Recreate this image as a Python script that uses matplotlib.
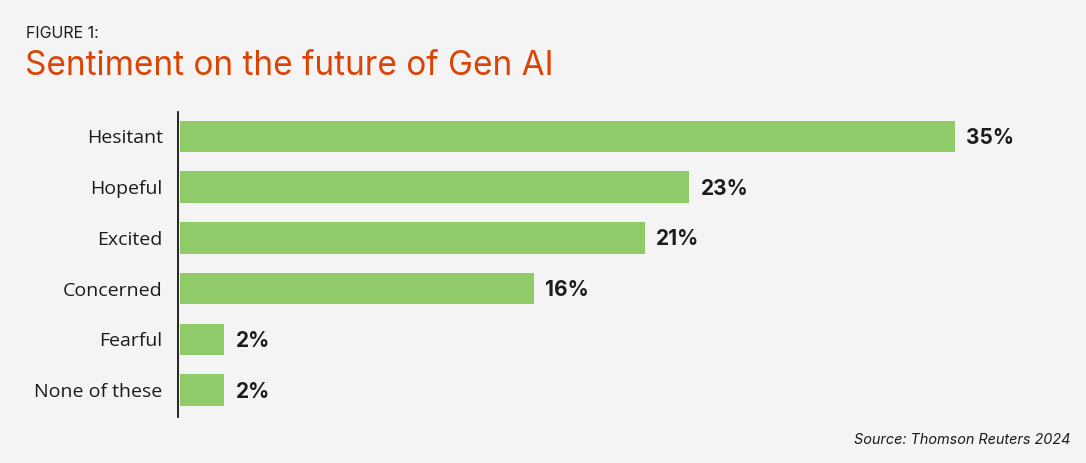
import matplotlib.pyplot as plt

categories = ['Hesitant', 'Hopeful', 'Excited', 'Concerned', 'Fearful', 'None of these']
values = [35, 23, 21, 16, 2, 2]

bg = '#f4f4f4'
fig = plt.figure(figsize=(10.86, 4.63), dpi=100, facecolor=bg)
W, H = 1086, 463
ax = fig.add_axes([178 / W, 1 - 417 / H, (1060 - 178) / W, (417 - 112) / H])
ax.set_facecolor(bg)

y = list(range(len(categories)))
ax.barh(y, values, height=0.62, color='#8fcb69', left=0.08)
for yi, v in zip(y, values):
    ax.text(v + 0.6, yi + 0.03, f'{v}%', va='center', ha='left', fontsize=15,
            fontweight='bold', family='Inter', color='#1c1c1c')

ax.set_xlim(0, 39.84)
ax.set_ylim(5.53, -0.48)
ax.set_yticks(y)
ax.set_yticklabels(categories, fontsize=14, family='Open Sans', color='#1c1c1c')
ax.tick_params(axis='y', length=0, pad=11)
ax.set_xticks([])
for s in ['top', 'right', 'bottom']:
    ax.spines[s].set_visible(False)
ax.spines['left'].set_linewidth(1.2)
ax.spines['left'].set_color('black')

fig.text(26 / W, 1 - 33 / H, 'FIGURE 1:', fontsize=11.5, family='Inter',
         color='#1c1c1c', va='center', ha='left')
fig.text(25 / W, 1 - 66 / H, 'Sentiment on the future of Gen AI', fontsize=24,
         family='Inter', color='#dc4405', va='center', ha='left')
fig.text(1070 / W, 1 - 440 / H, 'Source: Thomson Reuters 2024', fontsize=10.4,
         family='Inter', style='italic', color='#1c1c1c', va='center', ha='right')

fig.savefig('out.png', dpi=100, facecolor=bg)
